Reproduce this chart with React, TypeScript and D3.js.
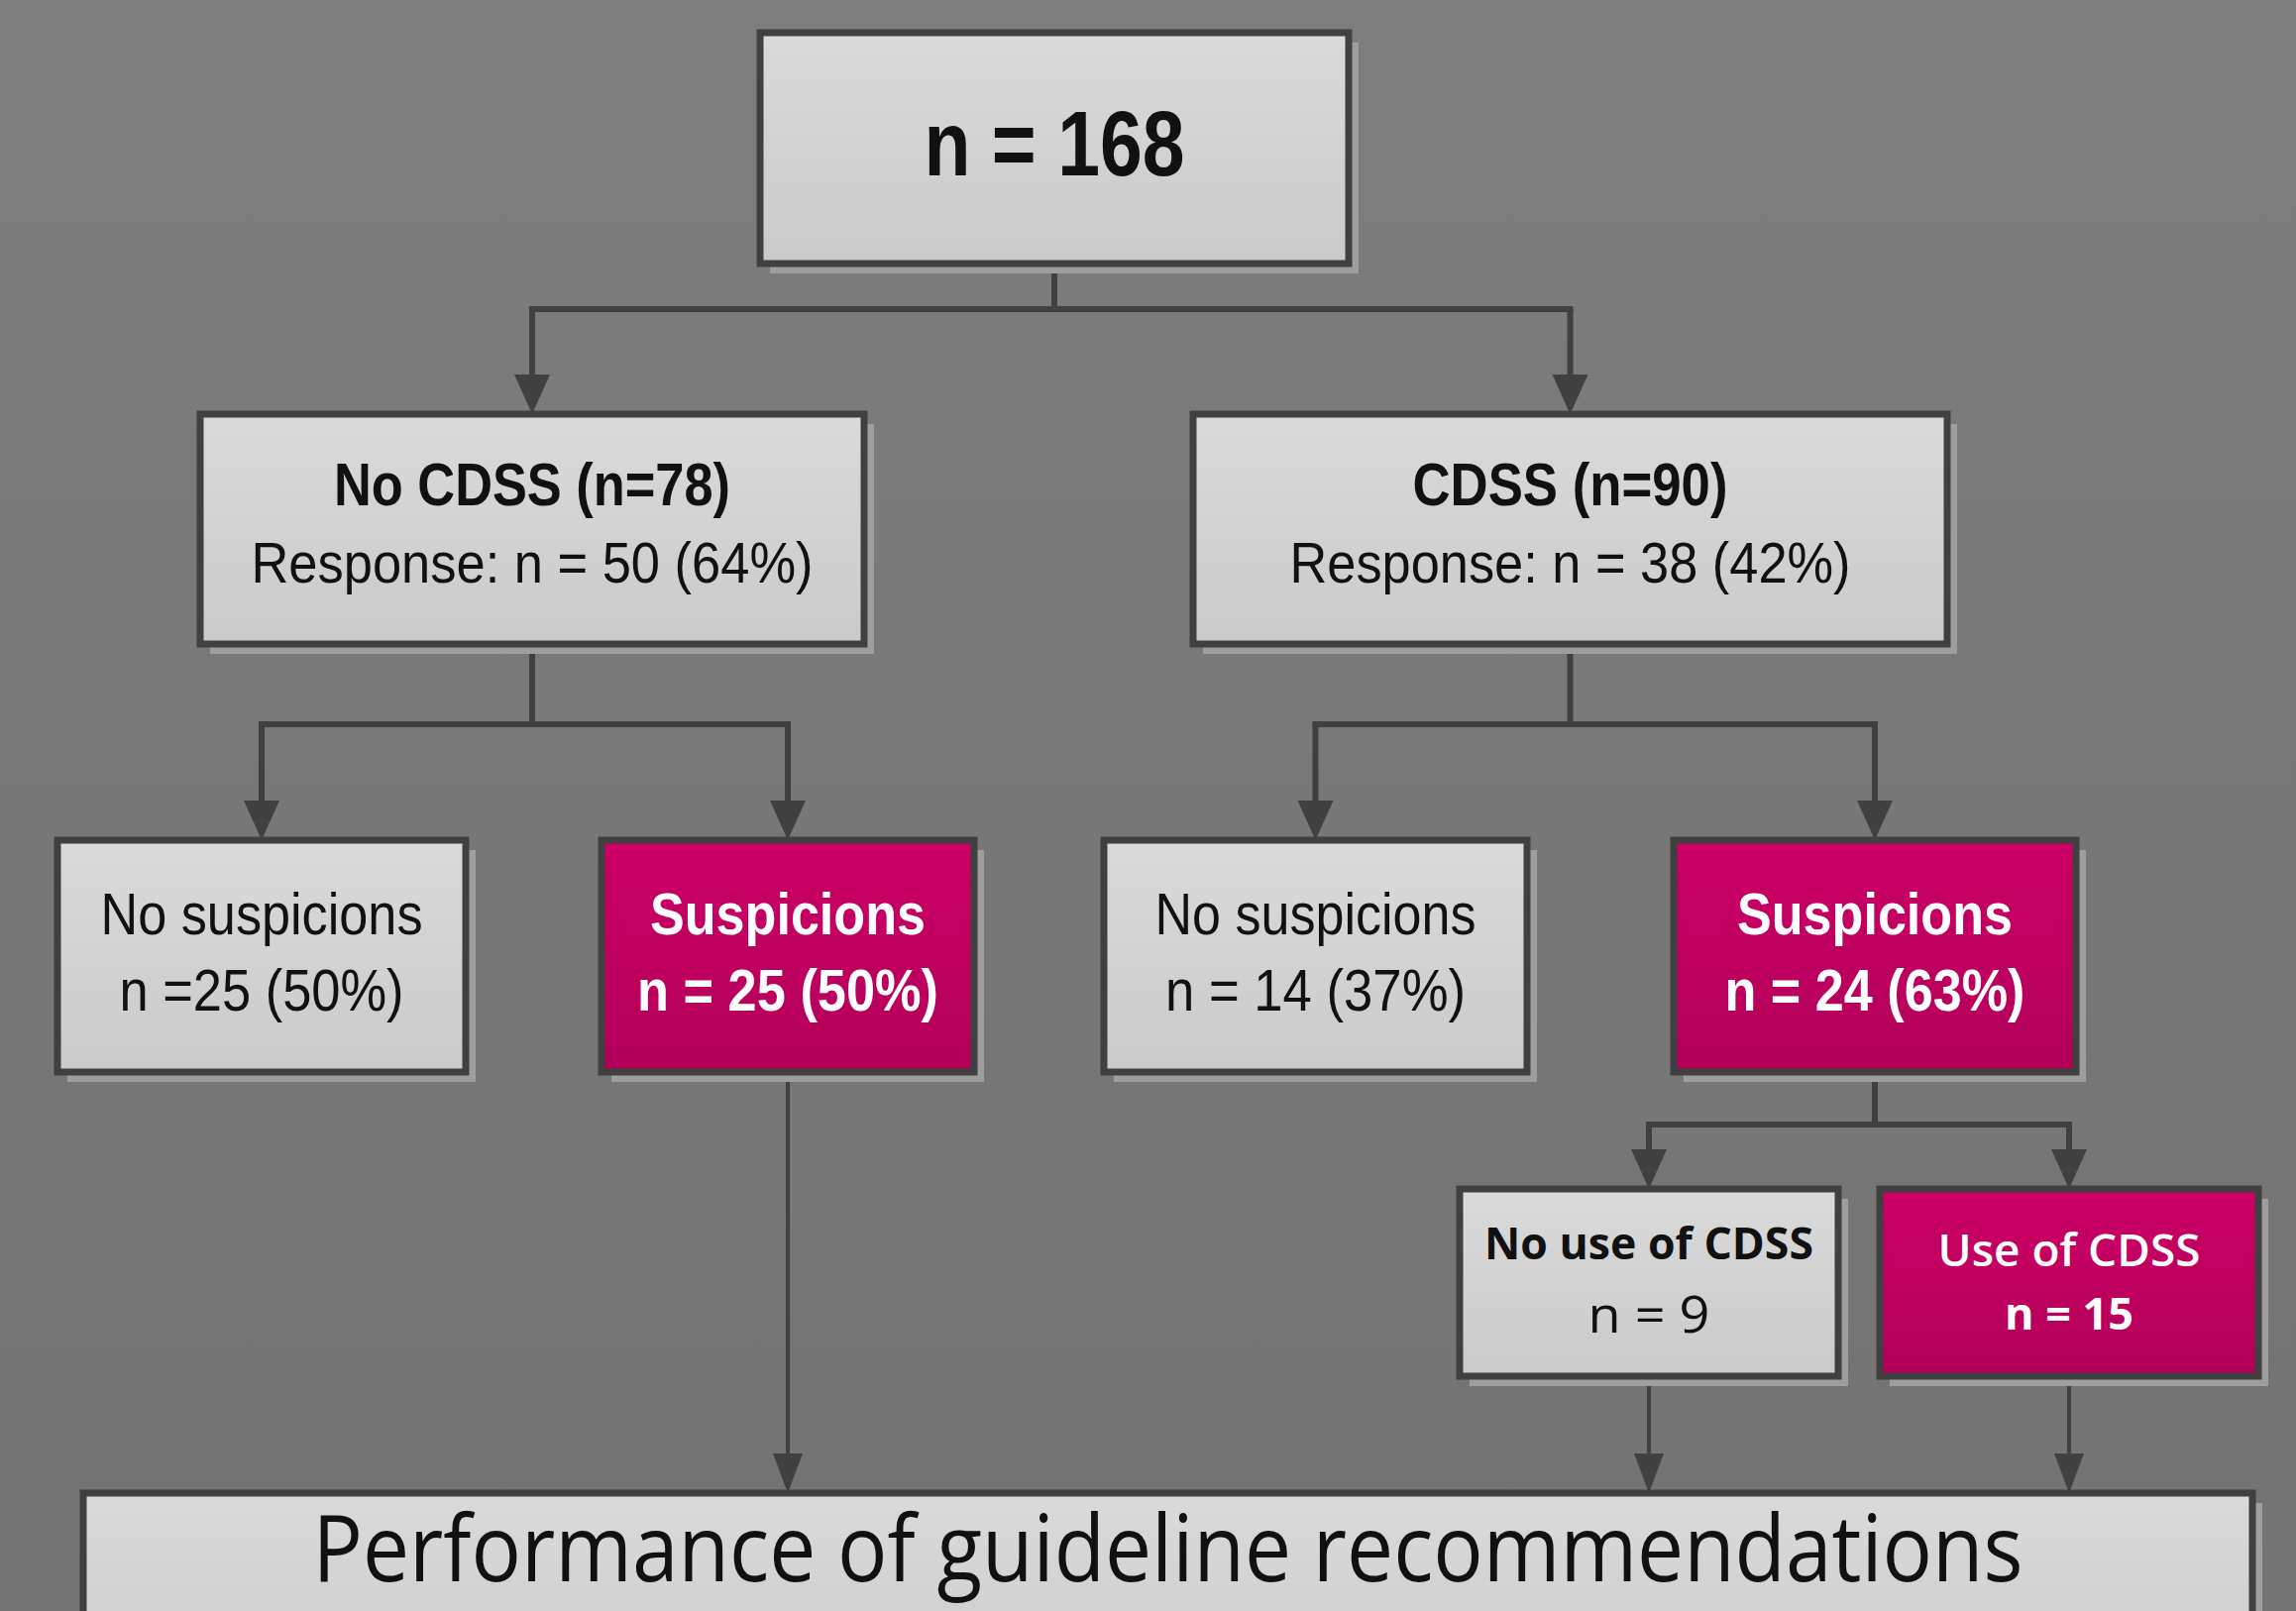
import React, { useEffect, useRef } from 'react';
import * as d3 from 'd3';

const width = 2317;
const height = 1626;

// flowchart content
const nodeIds = ['all', 'noCdss', 'cdss', 'noSuspL', 'suspL', 'noSuspR', 'suspR', 'noUse', 'use', 'perf'];
const nodeTitles = ['n = 168', 'No CDSS (n=78)', 'CDSS (n=90)', 'No suspicions', 'Suspicions', 'No suspicions', 'Suspicions', 'No use of CDSS', 'Use of CDSS', 'Performance of guideline recommendations'];
const nodeSubtitles = ['', 'Response: n = 50 (64%)', 'Response: n = 38 (42%)', 'n =25 (50%)', 'n = 25 (50%)', 'n = 14 (37%)', 'n = 24 (63%)', 'n = 9', 'n = 15', ''];
const nodeHighlight = [false, false, false, false, true, false, true, false, true, false];

// elbow branches: parent -> two children
const branchParents = ['all', 'noCdss', 'cdss', 'suspR'];
const branchChildren = [['noCdss', 'cdss'], ['noSuspL', 'suspL'], ['noSuspR', 'suspR'], ['noUse', 'use']];
// straight arrows
const directFrom = ['suspL', 'noUse', 'use'];
const directTo = ['perf', 'perf', 'perf'];

// layout (pixels)
const layout = {
  all: { x: 767, y: 33, w: 594, h: 233, elbow: 312, t: [177, 92, 700, 263], s: null },
  noCdss: { x: 202, y: 418, w: 670, h: 232, elbow: 731, t: [510, 62, 700, 400], s: [588, 58, 400, 567] },
  cdss: { x: 1204, y: 418, w: 761, h: 232, elbow: 731, t: [510, 62, 700, 318], s: [588, 58, 400, 566] },
  noSuspL: { x: 58, y: 848, w: 412, h: 234, t: [943, 60, 400, 325], s: [1020, 60, 400, 287] },
  suspL: { x: 607, y: 848, w: 376, h: 234, t: [943, 60, 700, 278], s: [1020, 60, 700, 304] },
  noSuspR: { x: 1114, y: 848, w: 427, h: 234, t: [943, 60, 400, 324], s: [1020, 60, 400, 303] },
  suspR: { x: 1689, y: 848, w: 406, h: 234, elbow: 1135, t: [943, 60, 700, 278], s: [1020, 60, 700, 303] },
  noUse: { x: 1473, y: 1200, w: 382, h: 189, t: [1271, 44, 700, 332], s: [1345, 52, 400, 123] },
  use: { x: 1897, y: 1200, w: 382, h: 189, t: [1278, 46, 600, 265], s: [1342, 44, 700, 130] },
  perf: { x: 84, y: 1507, w: 2189, h: 220, t: [1596, 94, 400, 1726], s: null },
};

const lineColor = '#404040';

function Flowchart() {
  const ref = useRef(null);

  useEffect(() => {
    if (!ref.current) return;
    const svg = d3.select(ref.current);
    svg.selectAll('*').remove();

    const defs = svg.append('defs');
    const bg = defs.append('linearGradient').attr('id', 'bg').attr('x1', 0).attr('y1', 0).attr('x2', 0).attr('y2', 1);
    bg.append('stop').attr('offset', '0%').attr('stop-color', '#7d7d7d');
    bg.append('stop').attr('offset', '100%').attr('stop-color', '#737373');
    const grey = defs.append('linearGradient').attr('id', 'greyFill').attr('x1', 0).attr('y1', 0).attr('x2', 0).attr('y2', 1);
    grey.append('stop').attr('offset', '0%').attr('stop-color', '#dadada');
    grey.append('stop').attr('offset', '100%').attr('stop-color', '#cacaca');
    const pink = defs.append('linearGradient').attr('id', 'pinkFill').attr('x1', 0).attr('y1', 0).attr('x2', 0).attr('y2', 1);
    pink.append('stop').attr('offset', '0%').attr('stop-color', '#cc0066');
    pink.append('stop').attr('offset', '100%').attr('stop-color', '#b20059');

    svg.append('rect').attr('width', width).attr('height', height).attr('fill', 'url(#bg)');

    const nodes = nodeIds.map((id, i) => ({
      id,
      title: nodeTitles[i],
      sub: nodeSubtitles[i],
      hi: nodeHighlight[i],
      ...layout[id],
    }));
    const byId = new Map(nodes.map((n) => [n.id, n]));
    const cx = (n) => n.x + n.w / 2;

    const arrowHead = (x, yTip, half = 18) =>
      d3.line()([[x - half, yTip - 40], [x + half, yTip - 40], [x, yTip]]) + 'Z';

    const links = svg.append('g');

    // elbow connectors
    branchParents.forEach((pid, i) => {
      const p = byId.get(pid);
      const kids = branchChildren[i].map((k) => byId.get(k));
      const ey = p.elbow;
      links.append('path')
        .attr('d', d3.line()([[cx(p), p.y + p.h], [cx(p), ey]]))
        .attr('stroke', lineColor).attr('stroke-width', 6).attr('fill', 'none');
      links.append('path')
        .attr('d', d3.line()([[cx(kids[0]), ey], [cx(kids[1]), ey]]))
        .attr('stroke', lineColor).attr('stroke-width', 6).attr('fill', 'none').attr('stroke-linecap', 'square');
      kids.forEach((k) => {
        links.append('path')
          .attr('d', d3.line()([[cx(k), ey], [cx(k), k.y - 30]]))
          .attr('stroke', lineColor).attr('stroke-width', 6).attr('fill', 'none');
        links.append('path').attr('d', arrowHead(cx(k), k.y)).attr('fill', lineColor);
      });
    });

    // straight connectors
    directFrom.forEach((fid, i) => {
      const f = byId.get(fid);
      const t = byId.get(directTo[i]);
      links.append('path')
        .attr('d', d3.line()([[cx(f), f.y + f.h], [cx(f), t.y - 30]]))
        .attr('stroke', lineColor).attr('stroke-width', 4).attr('fill', 'none');
      links.append('path').attr('d', arrowHead(cx(f), t.y, 15)).attr('fill', lineColor);
    });

    const boxes = svg.selectAll('g.node').data(nodes).enter().append('g').attr('class', 'node');

    // shadow
    boxes.append('rect')
      .attr('x', (d) => d.x + 10).attr('y', (d) => d.y + 10)
      .attr('width', (d) => d.w).attr('height', (d) => d.h)
      .attr('fill', '#9e9e9e');
    boxes.append('rect')
      .attr('x', (d) => d.x).attr('y', (d) => d.y)
      .attr('width', (d) => d.w).attr('height', (d) => d.h)
      .attr('fill', (d) => (d.hi ? 'url(#pinkFill)' : 'url(#greyFill)'))
      .attr('stroke', lineColor).attr('stroke-width', 7);

    const font = (d) =>
      d.id === 'noUse' || d.id === 'use' || d.id === 'perf'
        ? "'Open Sans', 'Liberation Sans Narrow', sans-serif"
        : "'Liberation Sans Narrow', 'Liberation Sans', Arial, sans-serif";

    const addLine = (sel, key, textKey) => {
      sel.filter((d) => d[key])
        .append('text')
        .attr('x', (d) => cx(d))
        .attr('y', (d) => d[key][0])
        .attr('text-anchor', 'middle')
        .attr('font-family', font)
        .attr('font-size', (d) => d[key][1])
        .attr('font-weight', (d) => d[key][2])
        .attr('textLength', (d) => d[key][3])
        .attr('lengthAdjust', 'spacingAndGlyphs')
        .attr('fill', (d) => (d.hi ? '#ffffff' : '#111111'))
        .text((d) => d[textKey]);
    };
    addLine(boxes, 't', 'title');
    addLine(boxes, 's', 'sub');
  }, []);

  return (
    <svg
      ref={ref}
      width={width}
      height={height}
      style={{ position: 'absolute', left: 0, top: 0, display: 'block' }}
    />
  );
}

export default function App() {
  return (
    <div>
      <Flowchart />
    </div>
  );
}
